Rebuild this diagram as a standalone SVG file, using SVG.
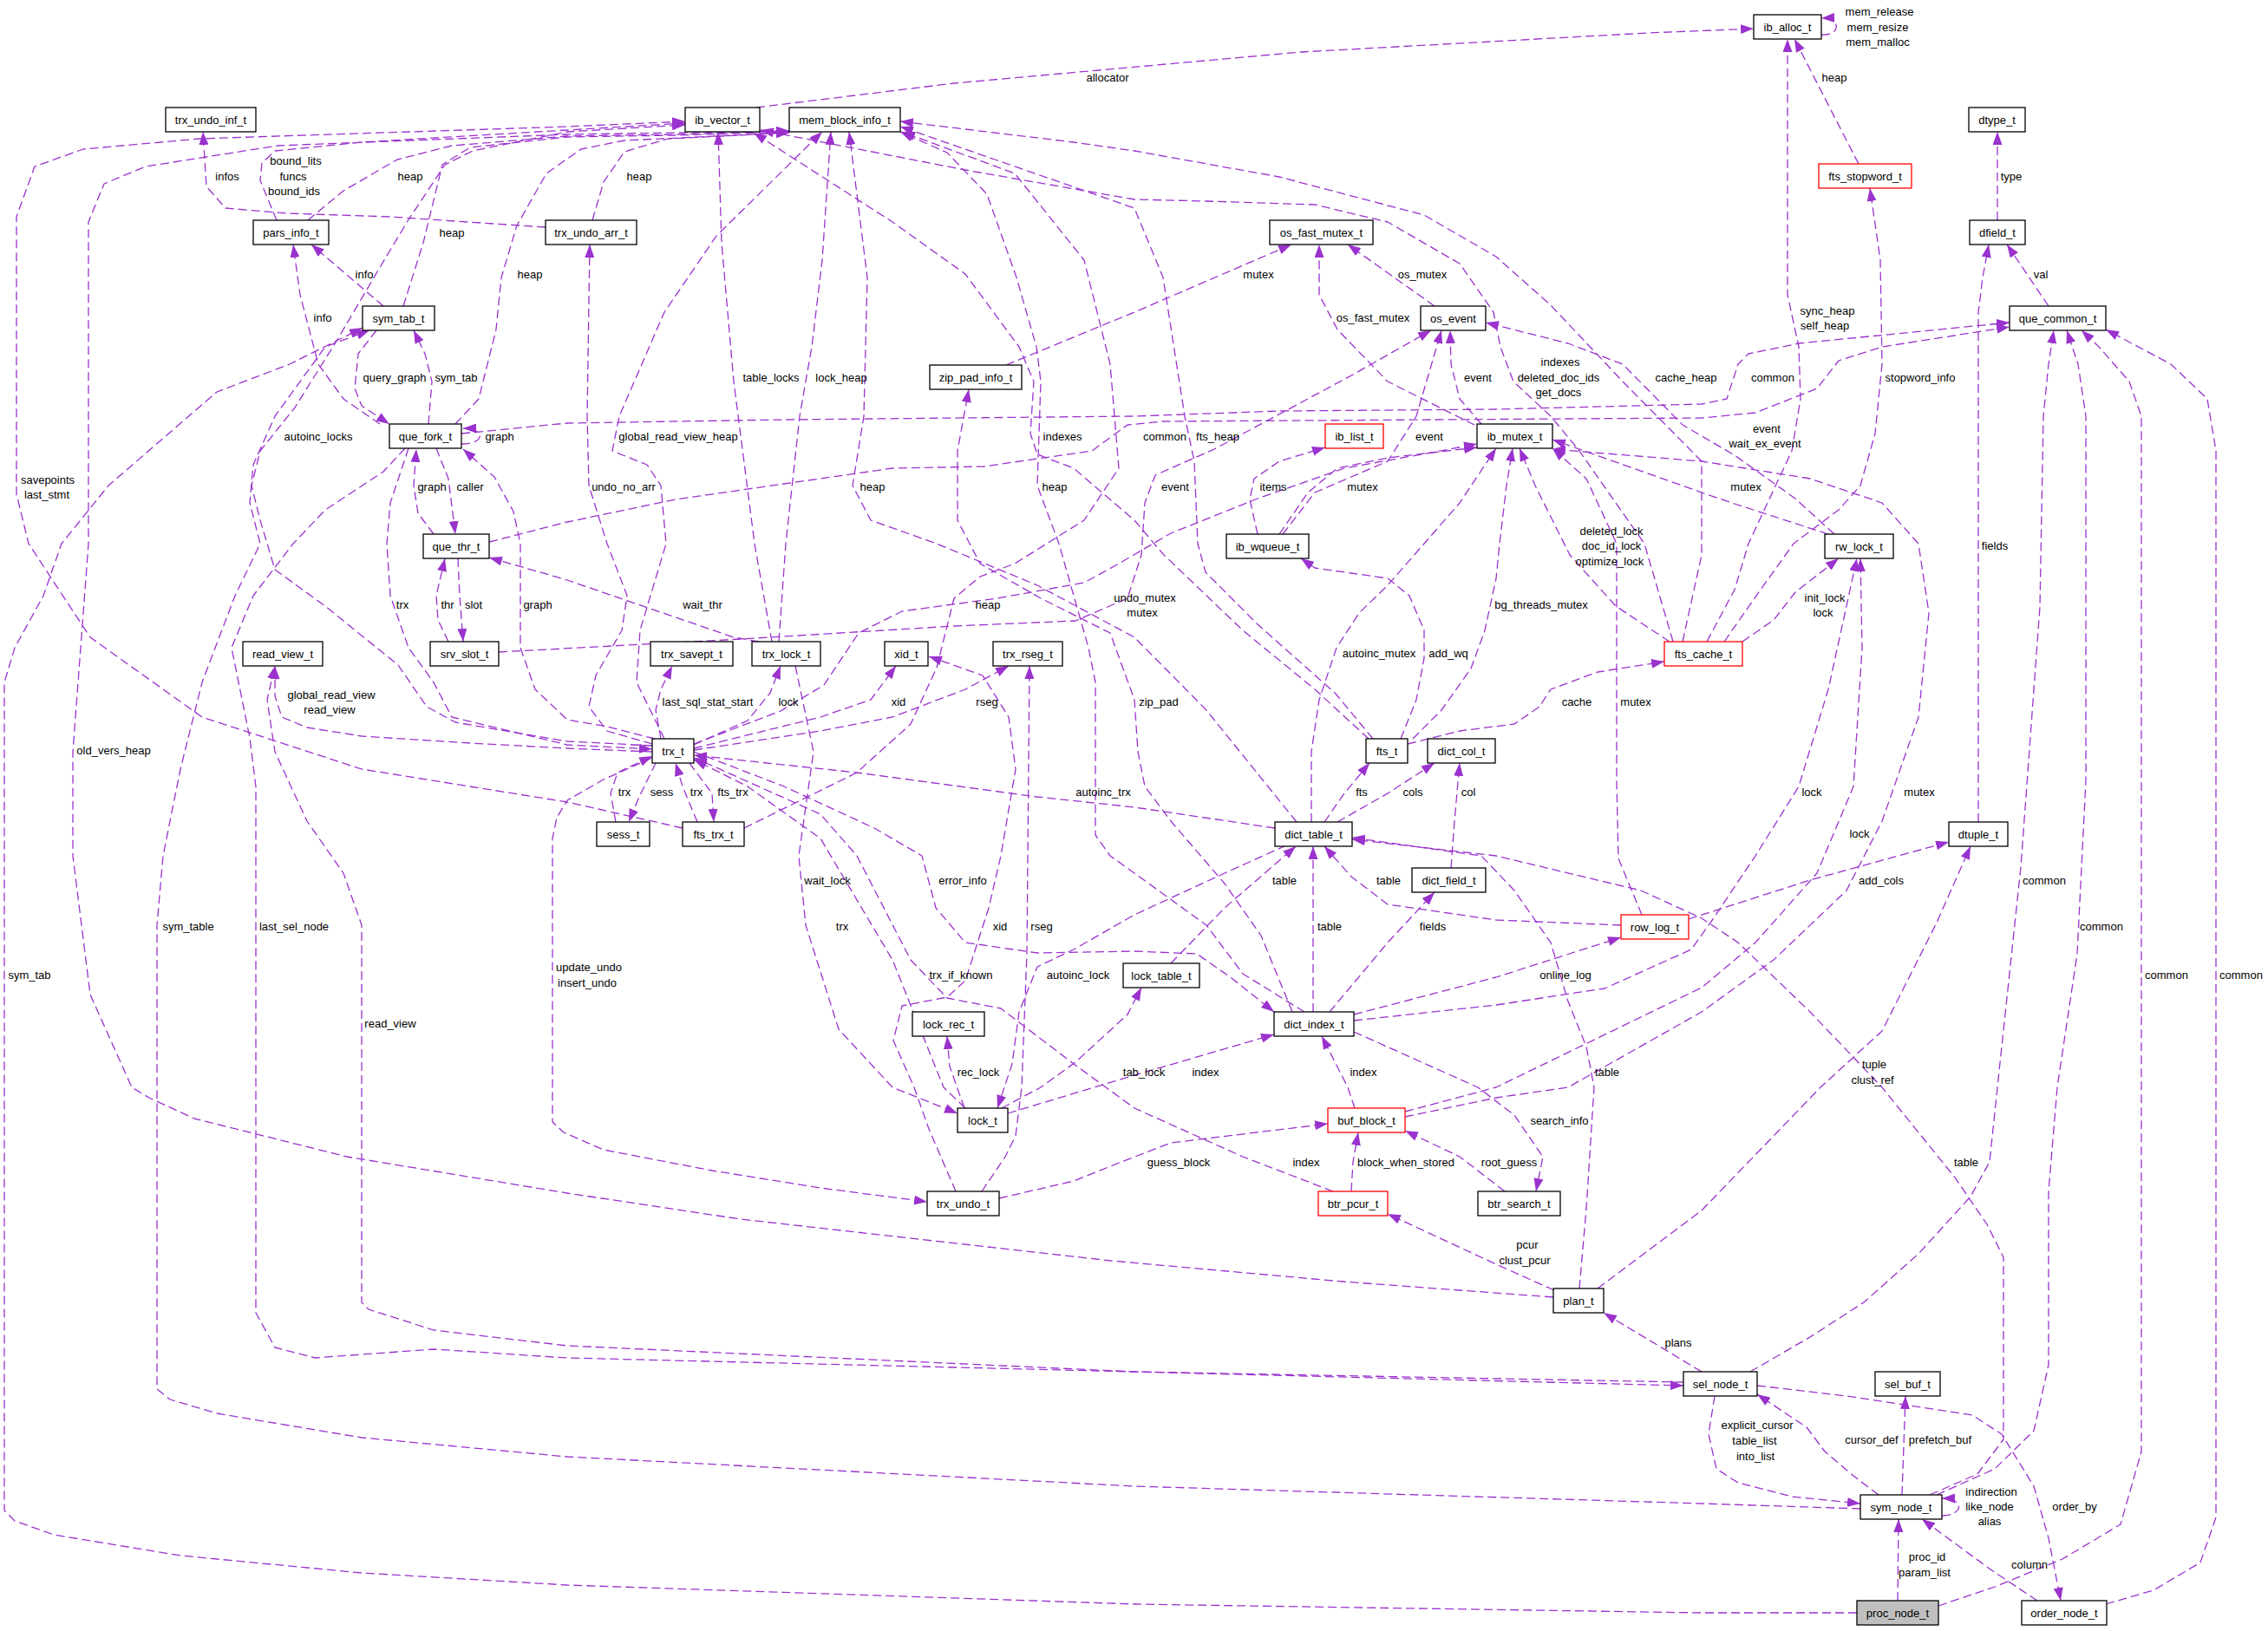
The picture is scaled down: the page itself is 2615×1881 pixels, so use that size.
<svg xmlns="http://www.w3.org/2000/svg" width="2615" height="1881" viewBox="0 0 2615 1881">
<defs>
<marker id="a" markerUnits="userSpaceOnUse" markerWidth="15" markerHeight="11" viewBox="0 0 15 11" refX="15" refY="5.5" orient="auto"><path d="M0,0L15,5.5L0,11z" fill="#9a32cd"/></marker>
<style>
text{font-family:"Liberation Sans",Arial,sans-serif;font-size:13px;fill:#000}
.n rect{fill:#fff;stroke:#000;stroke-width:1.3}
.n.r rect{stroke:#ff0000}
.n.g rect{fill:#bfbfbf}
.n text{text-anchor:middle}
.e path{fill:none;stroke:#9a32cd;stroke-width:1.3;stroke-dasharray:10,5;stroke-linejoin:round;marker-end:url(#a)}
.l text{text-anchor:middle}
</style>
</defs>
<rect width="2615" height="1881" fill="#fff"/>
<g id="edges" class="e">
<path d="M872,124 L1100,96 L1500,60 L1900,38 L2022,33"/>
<path d="M2100,40 C2122,42 2124,20 2100,21"/>
<path d="M2143,189 L2069,45"/>
<path d="M1968,740 L2000,680 L2016,627 L2066,520 L2076,460 L2074,400 L2061,340 L2061,45"/>
<path d="M2303,254 L2303,152"/>
<path d="M2362,353 L2314,282"/>
<path d="M2281,948 L2281,360 L2286,320 L2293,282"/>
<path d="M1988,740 L2030,680 L2068,627 L2120,588 L2145,560 L2162,500 L2170,420 L2168,300 L2156,217"/>
<path d="M2018,1582 L2087,1542 L2149,1502 L2212,1446 L2272,1380 L2294,1340 L2303,1254 L2330,1000 L2352,700 L2356,480 L2362,420 L2368,381"/>
<path d="M2233,1724 L2300,1694 L2345,1650 L2362,1574 L2362,1374 L2372,1254 L2395,1100 L2405,900 L2405,480 L2396,420 L2383,381"/>
<path d="M2235,1852 L2300,1830 L2378,1798 L2445,1758 L2469,1674 L2469,480 L2455,440 L2420,400 L2400,381"/>
<path d="M2428,1850 L2483,1834 L2537,1802 L2555,1750 L2555,520 L2545,460 L2503,420 L2428,380"/>
<path d="M532,500 L654,488 L904,484 L1308,480 L1475,474 L1725,472 L1962,466 L1991,460 L2004,420 L2016,408 L2074,396 L2317,372"/>
<path d="M564,625 L654,602 L779,576 L1029,540 L1134,538 L1259,520 L1300,490 L1340,486 L1962,482 L2024,476 L2095,448 L2120,416 L2170,400 L2317,377"/>
<path d="M629,262 L450,250 L330,246 L260,240 L238,215 L234,152"/>
<path d="M319,254 L300,208 L302,188 L317,174 L417,164 L654,150 L790,142"/>
<path d="M355,254 L396,220 L458,184 L521,168 L654,157 L780,155 L910,151"/>
<path d="M465,353 L488,280 L510,190 L542,170 L654,158 L780,156 L910,152"/>
<path d="M525,489 L552,460 L572,380 L578,320 L596,260 L630,200 L670,172 L720,162 L910,153"/>
<path d="M683,254 L696,210 L720,175 L770,160 L910,153"/>
<path d="M442,353 L359,282"/>
<path d="M438,489 L396,460 L367,420 L346,340 L338,282"/>
<path d="M494,489 L498,440 L490,408 L477,381"/>
<path d="M434,381 L413,408 L409,448 L417,468 L449,489"/>
<path d="M752,860 L654,855 L525,833 L492,815 L459,767 L375,699 L317,657 L300,600 L290,560 L300,520 L340,470 L390,390 L440,305 L470,255 L513,190 L545,174 L654,152 L790,144"/>
<path d="M532,512 C560,512 560,494 534,494"/>
<path d="M500,616 L482,592 L477,560 L480,518"/>
<path d="M503,517 L517,552 L525,616"/>
<path d="M787,955 L654,925 L417,887 L233,827 L104,735 L33,627 L19,570 L19,250 L40,192 L96,172 L230,160 L654,146 L790,140"/>
<path d="M890,740 L870,627 L846,440 L832,280 L828,152"/>
<path d="M898,740 L906,627 L922,480 L936,400 L948,300 L958,152"/>
<path d="M766,852 L734,787 L738,727 L768,627 L762,560 L746,536 L706,520 L714,480 L766,360 L826,272 L948,152"/>
<path d="M1578,852 L1516,795 L1433,727 L1341,639 L1308,600 L1238,540 L1196,524 L1188,500 L1192,440 L1175,400 L1113,316 L1029,256 L869,153"/>
<path d="M752,858 L700,843 L679,815 L687,779 L717,727 L723,687 L700,627 L679,560 L677,480 L680,282"/>
<path d="M1495,948 L1391,819 L1308,735 L1196,675 L1080,627 L1004,600 L983,560 L996,480 L1000,320 L979,152"/>
<path d="M1504,1167 L1433,1123 L1391,1067 L1308,1007 L1280,987 L1263,963 L1263,787 L1255,747 L1221,627 L1196,560 L1198,500 L1200,440 L1195,400 L1172,320 L1138,224 L1092,176 L1038,152"/>
<path d="M1160,421 L1308,360 L1489,282"/>
<path d="M1654,353 L1554,282"/>
<path d="M1700,490 L1600,440 L1542,380 L1521,340 L1521,282"/>
<path d="M1929,740 L1896,627 L1863,580 L1821,520 L1788,480 L1745,440 L1730,400 L1722,360 L1683,304 L1600,256 L1516,236 L1391,232 L1308,230 L1113,196 L877,150"/>
<path d="M1708,489 L1683,460 L1673,420 L1672,381"/>
<path d="M1940,740 L1962,640 L1962,532 L1871,440 L1788,352 L1725,296 L1642,248 L1475,204 L1308,174 L1238,164 L1038,140"/>
<path d="M1583,852 L1540,800 L1450,720 L1390,660 L1381,627 L1377,532 L1366,480 L1341,320 L1308,240 L1150,185 L1038,146"/>
<path d="M1479,616 L1516,568 L1600,532 L1633,480 L1662,381"/>
<path d="M575,752 L854,737 L1100,722 L1240,716 L1300,690 L1316,640 L1320,580 L1332,548 L1400,518 L1560,432 L1650,381"/>
<path d="M1450,616 L1441,576 L1446,552 L1475,532 L1528,516"/>
<path d="M1475,616 L1508,568 L1542,540 L1600,528 L1703,516"/>
<path d="M1925,740 L1863,699 L1810,640 L1790,600 L1770,560 L1752,517"/>
<path d="M2115,616 L2070,575 L2000,525 L1940,490 L1871,420 L1808,396 L1713,372"/>
<path d="M2108,616 L2000,581 L1962,568 L1790,507"/>
<path d="M471,517 L450,580 L446,627 L450,687 L471,747 L500,787 L521,827 L654,859 L752,864"/>
<path d="M528,644 L530,687 L534,740"/>
<path d="M517,740 L505,715 L503,687 L513,644"/>
<path d="M755,852 L700,838 L654,830 L617,795 L600,747 L600,627 L592,590 L570,550 L534,518"/>
<path d="M875,740 L846,735 L654,669 L564,643"/>
<path d="M858,955 L988,891 L1050,835 L1080,770 L1090,730 L1100,690 L1130,665 L1170,650 L1250,600 L1290,540 L1280,420 L1250,300 L1170,200 L1040,152"/>
<path d="M800,858 L900,820 L950,790 L990,730 L1040,705 L1150,690 L1250,672 L1290,650 L1350,615 L1450,575 L1550,540 L1650,522 L1703,512"/>
<path d="M1512,948 L1512,867 L1521,807 L1541,747 L1567,707 L1600,675 L1642,627 L1683,580 L1725,517"/>
<path d="M1629,852 L1662,819 L1696,771 L1712,727 L1725,667 L1729,627 L1737,560 L1744,517"/>
<path d="M1615,852 L1633,807 L1642,759 L1642,727 L1625,687 L1600,667 L1558,661 L1516,655 L1500,644"/>
<path d="M752,867 L654,863 L542,857 L417,849 L354,839 L325,827 L317,803 L317,768"/>
<path d="M762,852 L756,819 L762,795 L775,768"/>
<path d="M800,859 L862,831 L888,799 L900,768"/>
<path d="M800,863 L946,827 L1004,807 L1033,768"/>
<path d="M800,865 L946,843 L1029,827 L1113,795 L1163,768"/>
<path d="M1490,1167 L1454,1079 L1412,1019 L1350,947 L1320,907 L1312,867 L1308,807 L1280,730 L1200,690 L1130,650 L1104,600 L1104,520 L1117,449"/>
<path d="M1623,858 L1683,843 L1746,835 L1775,815 L1788,795 L1842,775 L1919,763"/>
<path d="M1893,1055 L1866,990 L1864,900 L1864,627 L1829,552 L1790,517"/>
<path d="M1791,1496 L1548,1478 L1281,1454 L854,1406 L654,1376 L400,1334 L224,1290 L172,1266 L152,1254 L104,1147 L84,987 L84,867 L102,627 L102,256 L120,212 L168,192 L320,168 L654,155 L910,151"/>
<path d="M710,948 L704,915 L712,891 L752,872"/>
<path d="M756,880 L737,919 L725,948"/>
<path d="M804,948 L787,907 L779,880"/>
<path d="M795,880 L821,915 L823,948"/>
<path d="M1470,955 L1308,931 L1196,919 L988,891 L800,871"/>
<path d="M1527,948 L1550,915 L1579,880"/>
<path d="M1542,948 L1600,915 L1654,880"/>
<path d="M1673,1001 L1677,947 L1683,880"/>
<path d="M2009,740 L2045,715 L2070,683 L2120,644"/>
<path d="M1561,1177 L1725,1159 L1850,1140 L1950,1095 L1975,1060 L2024,987 L2074,907 L2108,795 L2141,644"/>
<path d="M1620,1288 L1725,1266 L1808,1254 L1962,1167 L2045,1107 L2129,1027 L2170,947 L2212,827 L2224,707 L2212,627 L2170,580 L2087,552 L1962,532 L1790,518"/>
<path d="M1620,1282 L1725,1254 L1962,1139 L2024,1087 L2095,1007 L2137,907 L2147,747 L2145,644"/>
<path d="M1947,1060 L2087,1015 L2247,971"/>
<path d="M917,768 L938,867 L921,987 L929,1067 L967,1187 L1029,1254 L1104,1284"/>
<path d="M1113,1278 L1088,1254 L1029,1107 L946,967 L862,907 L800,876"/>
<path d="M800,867 L904,907 L1008,955 L1063,987 L1079,1047 L1113,1087 L1196,1099 L1308,1097 L1380,1100 L1420,1128 L1469,1167"/>
<path d="M1102,1374 L1071,1302 L1054,1254 L1030,1200 L1040,1160 L1092,1150 L1113,1131 L1140,1047 L1154,987 L1171,887 L1163,827 L1133,779 L1071,757"/>
<path d="M1132,1374 L1159,1334 L1171,1310 L1178,1254 L1184,1100 L1187,768"/>
<path d="M1537,1374 L1433,1334 L1308,1278 L1238,1227 L1154,1163 L1092,1151 L1050,1107 L988,987 L946,939 L821,883 L800,874"/>
<path d="M1483,975 L1412,1007 L1308,1055 L1238,1095 L1196,1115 L1175,1167 L1167,1227 L1150,1278"/>
<path d="M1112,1278 L1095,1230 L1092,1195"/>
<path d="M1155,1278 L1200,1254 L1240,1225 L1300,1170 L1316,1139"/>
<path d="M1350,1111 L1412,1047 L1494,976"/>
<path d="M1869,1067 L1725,1061 L1600,1043 L1558,1011 L1527,976"/>
<path d="M1514,1167 L1514,976"/>
<path d="M1533,1167 L1600,1087 L1654,1029"/>
<path d="M1561,1170 L1725,1127 L1869,1081"/>
<path d="M1162,1284 L1308,1240 L1469,1193"/>
<path d="M1562,1278 L1554,1254 L1524,1195"/>
<path d="M1821,1486 L1829,1394 L1838,1254 L1829,1207 L1808,1155 L1788,1087 L1746,1027 L1708,987 L1559,966"/>
<path d="M752,874 L696,899 L654,923 L642,943 L637,967 L637,1294 L650,1306 L696,1326 L821,1350 L946,1370 L1069,1386"/>
<path d="M1152,1382 L1238,1362 L1288,1342 L1350,1318 L1531,1296"/>
<path d="M1558,1374 L1560,1340 L1566,1306"/>
<path d="M1735,1374 L1683,1334 L1620,1304"/>
<path d="M1561,1190 L1704,1254 L1746,1286 L1779,1334 L1771,1374"/>
<path d="M1792,1488 L1725,1458 L1600,1400"/>
<path d="M1962,1582 L1849,1514"/>
<path d="M1842,1486 L1962,1396 L2099,1254 L2170,1189 L2233,1064 L2272,976"/>
<path d="M2225,1724 L2280,1700 L2310,1660 L2310,1450 L2291,1412 L2254,1358 L2170,1254 L2087,1167 L2004,1087 L1962,1059 L1892,1027 L1725,987 L1559,968"/>
<path d="M1977,1610 L1970,1654 L1979,1694 L2004,1710 L2066,1726 L2145,1734"/>
<path d="M2166,1724 L2137,1702 L2104,1674 L2083,1646 L2026,1608"/>
<path d="M2193,1724 L2197,1610"/>
<path d="M2239,1748 C2264,1748 2266,1728 2239,1728"/>
<path d="M2026,1598 L2129,1610 L2274,1632 L2308,1654 L2345,1714 L2362,1774 L2376,1846"/>
<path d="M2188,1846 L2189,1752"/>
<path d="M2349,1846 L2295,1810 L2216,1752"/>
<path d="M2145,1740 L1962,1734 L1308,1714 L654,1680 L417,1658 L250,1630 L196,1614 L181,1602 L181,1067 L188,987 L208,887 L233,787 L271,687 L300,627 L288,580 L292,536 L317,480 L375,400 L426,381"/>
<path d="M2141,1860 L1962,1860 L1308,1850 L654,1828 L417,1814 L208,1794 L62,1770 L17,1754 L5,1742 L5,787 L17,747 L50,687 L71,627 L125,560 L250,452 L334,420 L418,378"/>
<path d="M1941,1594 L1308,1582 L654,1552 L500,1534 L425,1510 L417,1502 L417,1067 L396,1007 L354,947 L317,867 L308,807 L317,768"/>
<path d="M467,517 L442,544 L375,588 L338,627 L292,687 L267,747 L288,851 L295,907 L295,1514 L317,1554 L363,1566 L500,1556 L654,1566 L1308,1582 L1941,1598"/>
</g>
<g id="edge-labels" class="l">
<text x="1277" y="93.5">allocator</text>
<text x="2167" y="17.5">mem_release</text>
<text x="2165" y="35.5">mem_resize</text>
<text x="2165" y="52.5">mem_malloc</text>
<text x="2115" y="93.5">heap</text>
<text x="2107" y="362.5">sync_heap</text>
<text x="2104" y="379.5">self_heap</text>
<text x="2319" y="207.5">type</text>
<text x="2353" y="320.5">val</text>
<text x="2300" y="633.5">fields</text>
<text x="2214" y="439.5">stopword_info</text>
<text x="2357" y="1019.5">common</text>
<text x="2423" y="1072.5">common</text>
<text x="2498" y="1128.5">common</text>
<text x="2584" y="1128.5">common</text>
<text x="2044" y="439.5">common</text>
<text x="1343" y="507.5">common</text>
<text x="262" y="207.5">infos</text>
<text x="341" y="189.5">bound_lits</text>
<text x="338" y="207.5">funcs</text>
<text x="339" y="224.5">bound_ids</text>
<text x="473" y="207.5">heap</text>
<text x="521" y="272.5">heap</text>
<text x="611" y="320.5">heap</text>
<text x="737" y="207.5">heap</text>
<text x="420" y="320.5">info</text>
<text x="372" y="370.5">info</text>
<text x="526" y="439.5">sym_tab</text>
<text x="455" y="439.5">query_graph</text>
<text x="367" y="507.5">autoinc_locks</text>
<text x="576" y="507.5">graph</text>
<text x="498" y="565.5">graph</text>
<text x="542" y="565.5">caller</text>
<text x="55" y="557.5">savepoints</text>
<text x="54" y="574.5">last_stmt</text>
<text x="889" y="439.5">table_locks</text>
<text x="970" y="439.5">lock_heap</text>
<text x="782" y="507.5">global_read_view_heap</text>
<text x="1225" y="507.5">indexes</text>
<text x="719" y="565.5">undo_no_arr</text>
<text x="1006" y="565.5">heap</text>
<text x="1216" y="565.5">heap</text>
<text x="1451" y="320.5">mutex</text>
<text x="1640" y="320.5">os_mutex</text>
<text x="1583" y="370.5">os_fast_mutex</text>
<text x="1799" y="421.5">indexes</text>
<text x="1797" y="439.5">deleted_doc_ids</text>
<text x="1797" y="456.5">get_docs</text>
<text x="1704" y="439.5">event</text>
<text x="1944" y="439.5">cache_heap</text>
<text x="1404" y="507.5">fts_heap</text>
<text x="1648" y="507.5">event</text>
<text x="1355" y="565.5">event</text>
<text x="1468" y="565.5">items</text>
<text x="1571" y="565.5">mutex</text>
<text x="1858" y="616.5">deleted_lock</text>
<text x="1858" y="633.5">doc_id_lock</text>
<text x="1856" y="651.5">optimize_lock</text>
<text x="2037" y="498.5">event</text>
<text x="2035" y="515.5">wait_ex_event</text>
<text x="2013" y="565.5">mutex</text>
<text x="464" y="701.5">trx</text>
<text x="516" y="701.5">thr</text>
<text x="546" y="701.5">slot</text>
<text x="620" y="701.5">graph</text>
<text x="810" y="701.5">wait_thr</text>
<text x="1139" y="701.5">heap</text>
<text x="1320" y="693.5">undo_mutex</text>
<text x="1317" y="710.5">mutex</text>
<text x="1590" y="757.5">autoinc_mutex</text>
<text x="1670" y="757.5">add_wq</text>
<text x="1777" y="701.5">bg_threads_mutex</text>
<text x="382" y="805.5">global_read_view</text>
<text x="380" y="822.5">read_view</text>
<text x="816" y="813.5">last_sql_stat_start</text>
<text x="909" y="813.5">lock</text>
<text x="1036" y="813.5">xid</text>
<text x="1138" y="813.5">rseg</text>
<text x="1336" y="813.5">zip_pad</text>
<text x="1818" y="813.5">cache</text>
<text x="1886" y="813.5">mutex</text>
<text x="131" y="869.5">old_vers_heap</text>
<text x="720" y="917.5">trx</text>
<text x="763" y="917.5">sess</text>
<text x="803" y="917.5">trx</text>
<text x="845" y="917.5">fts_trx</text>
<text x="1272" y="917.5">autoinc_trx</text>
<text x="1570" y="917.5">fts</text>
<text x="1629" y="917.5">cols</text>
<text x="1693" y="917.5">col</text>
<text x="2104" y="693.5">init_lock</text>
<text x="2102" y="710.5">lock</text>
<text x="2089" y="917.5">lock</text>
<text x="2213" y="917.5">mutex</text>
<text x="2144" y="965.5">lock</text>
<text x="2169" y="1019.5">add_cols</text>
<text x="954" y="1019.5">wait_lock</text>
<text x="1110" y="1019.5">error_info</text>
<text x="1481" y="1019.5">table</text>
<text x="1601" y="1019.5">table</text>
<text x="971" y="1072.5">trx</text>
<text x="1153" y="1072.5">xid</text>
<text x="1201" y="1072.5">rseg</text>
<text x="1533" y="1072.5">table</text>
<text x="1652" y="1072.5">fields</text>
<text x="217" y="1072.5">sym_table</text>
<text x="339" y="1072.5">last_sel_node</text>
<text x="679" y="1119.5">update_undo</text>
<text x="677" y="1137.5">insert_undo</text>
<text x="1108" y="1128.5">trx_if_known</text>
<text x="1243" y="1128.5">autoinc_lock</text>
<text x="1805" y="1128.5">online_log</text>
<text x="34" y="1128.5">sym_tab</text>
<text x="450" y="1184.5">read_view</text>
<text x="1128" y="1240.5">rec_lock</text>
<text x="1319" y="1240.5">tab_lock</text>
<text x="1390" y="1240.5">index</text>
<text x="1572" y="1240.5">index</text>
<text x="1853" y="1240.5">table</text>
<text x="2161" y="1231.5">tuple</text>
<text x="2159" y="1249.5">clust_ref</text>
<text x="1798" y="1296.5">search_info</text>
<text x="1359" y="1344.5">guess_block</text>
<text x="1506" y="1344.5">index</text>
<text x="1621" y="1344.5">block_when_stored</text>
<text x="1740" y="1344.5">root_guess</text>
<text x="2267" y="1344.5">table</text>
<text x="1761" y="1439.5">pcur</text>
<text x="1758" y="1457.5">clust_pcur</text>
<text x="1935" y="1552.5">plans</text>
<text x="2026" y="1647.5">explicit_cursor</text>
<text x="2023" y="1665.5">table_list</text>
<text x="2024" y="1683.5">into_list</text>
<text x="2158" y="1665">cursor_def</text>
<text x="2237" y="1665">prefetch_buf</text>
<text x="2296" y="1724.5">indirection</text>
<text x="2294" y="1741.5">like_node</text>
<text x="2294" y="1758.5">alias</text>
<text x="2392" y="1741.5">order_by</text>
<text x="2222" y="1799.5">proc_id</text>
<text x="2219" y="1817.5">param_list</text>
<text x="2340" y="1808.5">column</text>
</g>
<g id="trx_undo_inf_t" class="n"><rect x="191" y="124" width="104" height="28"/><text x="243" y="143">trx_undo_inf_t</text></g>
<g id="ib_vector_t" class="n"><rect x="790" y="124" width="86" height="28"/><text x="833" y="143">ib_vector_t</text></g>
<g id="mem_block_info_t" class="n"><rect x="910" y="124" width="128" height="28"/><text x="974" y="143">mem_block_info_t</text></g>
<g id="ib_alloc_t" class="n"><rect x="2022" y="17" width="78" height="28"/><text x="2061" y="36">ib_alloc_t</text></g>
<g id="dtype_t" class="n"><rect x="2270" y="124" width="65" height="28"/><text x="2302.5" y="143">dtype_t</text></g>
<g id="fts_stopword_t" class="n r"><rect x="2097" y="189" width="107" height="28"/><text x="2150.5" y="208">fts_stopword_t</text></g>
<g id="pars_info_t" class="n"><rect x="292" y="254" width="87" height="28"/><text x="335.5" y="273">pars_info_t</text></g>
<g id="trx_undo_arr_t" class="n"><rect x="629" y="254" width="105" height="28"/><text x="681.5" y="273">trx_undo_arr_t</text></g>
<g id="os_fast_mutex_t" class="n"><rect x="1464" y="254" width="119" height="28"/><text x="1523.5" y="273">os_fast_mutex_t</text></g>
<g id="dfield_t" class="n"><rect x="2271" y="254" width="64" height="28"/><text x="2303" y="273">dfield_t</text></g>
<g id="sym_tab_t" class="n"><rect x="418" y="353" width="83" height="28"/><text x="459.5" y="372">sym_tab_t</text></g>
<g id="zip_pad_info_t" class="n"><rect x="1072" y="421" width="106" height="28"/><text x="1125" y="440">zip_pad_info_t</text></g>
<g id="os_event" class="n"><rect x="1638" y="353" width="75" height="28"/><text x="1675.5" y="372">os_event</text></g>
<g id="que_common_t" class="n"><rect x="2317" y="353" width="111" height="28"/><text x="2372.5" y="372">que_common_t</text></g>
<g id="que_fork_t" class="n"><rect x="449" y="489" width="83" height="28"/><text x="490.5" y="508">que_fork_t</text></g>
<g id="ib_list_t" class="n r"><rect x="1528" y="489" width="67" height="28"/><text x="1561.5" y="508">ib_list_t</text></g>
<g id="ib_mutex_t" class="n"><rect x="1703" y="489" width="87" height="28"/><text x="1746.5" y="508">ib_mutex_t</text></g>
<g id="que_thr_t" class="n"><rect x="488" y="616" width="76" height="28"/><text x="526" y="635">que_thr_t</text></g>
<g id="ib_wqueue_t" class="n"><rect x="1414" y="616" width="95" height="28"/><text x="1461.5" y="635">ib_wqueue_t</text></g>
<g id="rw_lock_t" class="n"><rect x="2104" y="616" width="79" height="28"/><text x="2143.5" y="635">rw_lock_t</text></g>
<g id="read_view_t" class="n"><rect x="280" y="740" width="92" height="28"/><text x="326" y="759">read_view_t</text></g>
<g id="srv_slot_t" class="n"><rect x="496" y="740" width="79" height="28"/><text x="535.5" y="759">srv_slot_t</text></g>
<g id="trx_savept_t" class="n"><rect x="750" y="740" width="95" height="28"/><text x="797.5" y="759">trx_savept_t</text></g>
<g id="trx_lock_t" class="n"><rect x="867" y="740" width="79" height="28"/><text x="906.5" y="759">trx_lock_t</text></g>
<g id="xid_t" class="n"><rect x="1020" y="740" width="50" height="28"/><text x="1045" y="759">xid_t</text></g>
<g id="trx_rseg_t" class="n"><rect x="1145" y="740" width="80" height="28"/><text x="1185" y="759">trx_rseg_t</text></g>
<g id="fts_cache_t" class="n r"><rect x="1919" y="740" width="90" height="28"/><text x="1964" y="759">fts_cache_t</text></g>
<g id="trx_t" class="n"><rect x="752" y="852" width="48" height="28"/><text x="776" y="871">trx_t</text></g>
<g id="fts_t" class="n"><rect x="1575" y="852" width="48" height="28"/><text x="1599" y="871">fts_t</text></g>
<g id="dict_col_t" class="n"><rect x="1646" y="852" width="78" height="28"/><text x="1685" y="871">dict_col_t</text></g>
<g id="sess_t" class="n"><rect x="688" y="948" width="61" height="28"/><text x="718.5" y="967">sess_t</text></g>
<g id="fts_trx_t" class="n"><rect x="787" y="948" width="71" height="28"/><text x="822.5" y="967">fts_trx_t</text></g>
<g id="dict_table_t" class="n"><rect x="1470" y="948" width="89" height="28"/><text x="1514.5" y="967">dict_table_t</text></g>
<g id="dtuple_t" class="n"><rect x="2247" y="948" width="68" height="28"/><text x="2281" y="967">dtuple_t</text></g>
<g id="dict_field_t" class="n"><rect x="1628" y="1001" width="85" height="28"/><text x="1670.5" y="1020">dict_field_t</text></g>
<g id="row_log_t" class="n r"><rect x="1869" y="1055" width="78" height="28"/><text x="1908" y="1074">row_log_t</text></g>
<g id="lock_table_t" class="n"><rect x="1295" y="1111" width="88" height="28"/><text x="1339" y="1130">lock_table_t</text></g>
<g id="lock_rec_t" class="n"><rect x="1052" y="1167" width="83" height="28"/><text x="1093.5" y="1186">lock_rec_t</text></g>
<g id="dict_index_t" class="n"><rect x="1469" y="1167" width="92" height="28"/><text x="1515" y="1186">dict_index_t</text></g>
<g id="lock_t" class="n"><rect x="1104" y="1278" width="58" height="28"/><text x="1133" y="1297">lock_t</text></g>
<g id="buf_block_t" class="n r"><rect x="1531" y="1278" width="89" height="28"/><text x="1575.5" y="1297">buf_block_t</text></g>
<g id="trx_undo_t" class="n"><rect x="1069" y="1374" width="83" height="28"/><text x="1110.5" y="1393">trx_undo_t</text></g>
<g id="btr_pcur_t" class="n r"><rect x="1520" y="1374" width="80" height="28"/><text x="1560" y="1393">btr_pcur_t</text></g>
<g id="btr_search_t" class="n"><rect x="1704" y="1374" width="95" height="28"/><text x="1751.5" y="1393">btr_search_t</text></g>
<g id="plan_t" class="n"><rect x="1791" y="1486" width="58" height="28"/><text x="1820" y="1505">plan_t</text></g>
<g id="sel_node_t" class="n"><rect x="1941" y="1582" width="85" height="28"/><text x="1983.5" y="1601">sel_node_t</text></g>
<g id="sel_buf_t" class="n"><rect x="2162" y="1582" width="75" height="28"/><text x="2199.5" y="1601">sel_buf_t</text></g>
<g id="sym_node_t" class="n"><rect x="2145" y="1724" width="94" height="28"/><text x="2192" y="1743">sym_node_t</text></g>
<g id="proc_node_t" class="n g"><rect x="2141" y="1846" width="94" height="28"/><text x="2188" y="1865">proc_node_t</text></g>
<g id="order_node_t" class="n"><rect x="2331" y="1846" width="98" height="28"/><text x="2380" y="1865">order_node_t</text></g>
</svg>
